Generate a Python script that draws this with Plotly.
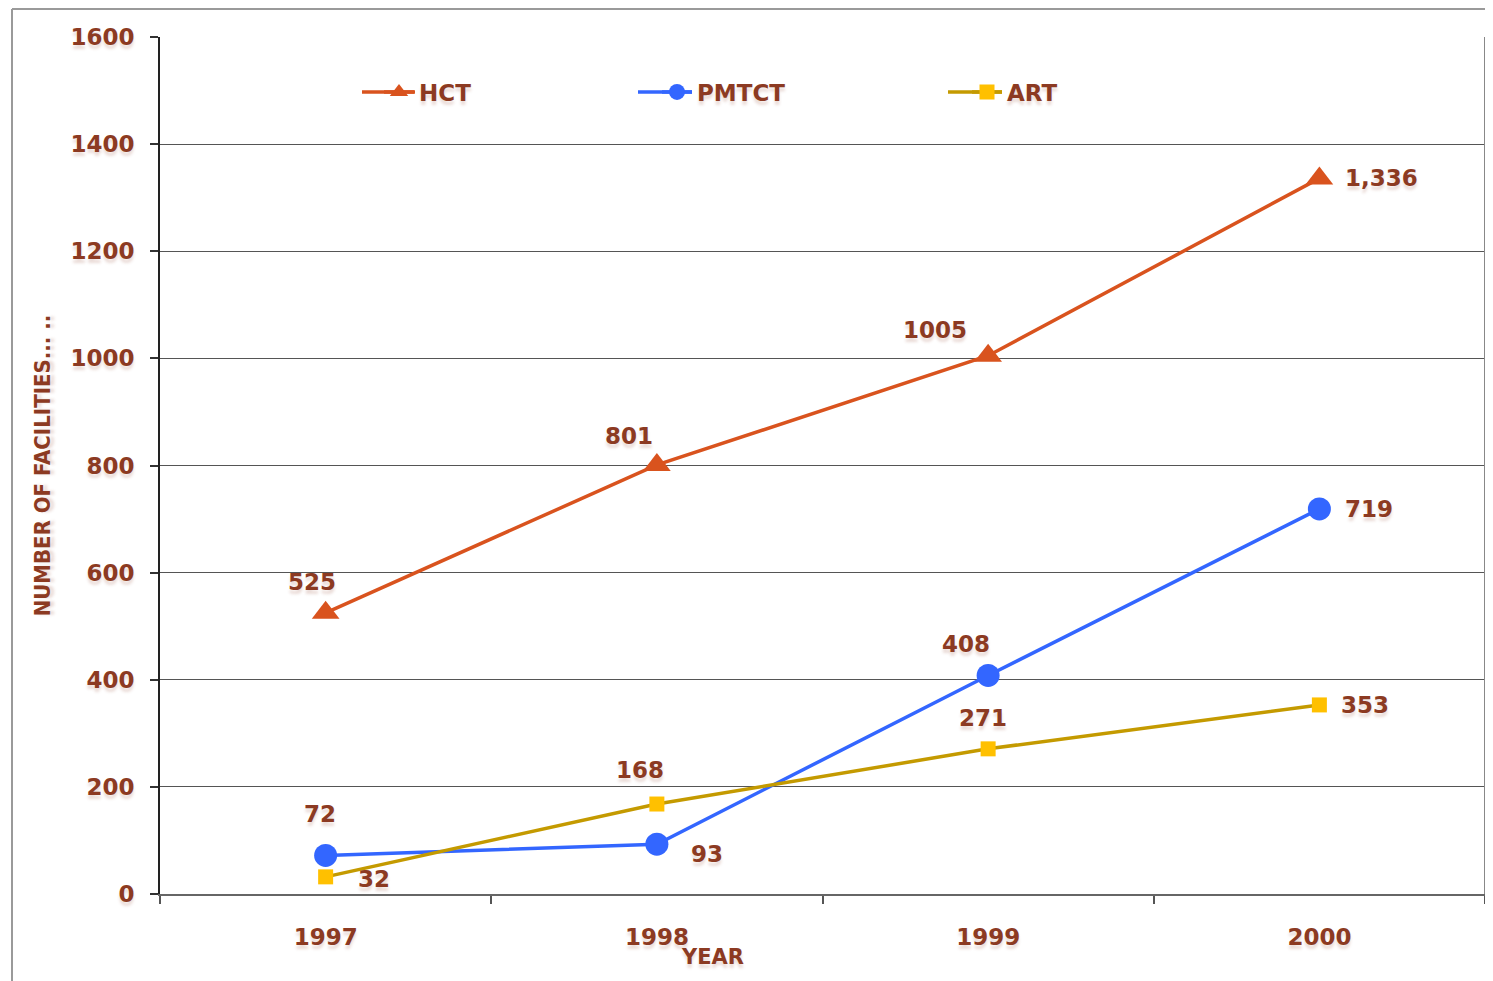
import plotly.graph_objects as go

years = ["1997", "1998", "1999", "2000"]
hct = [525, 801, 1005, 1336]
pmtct = [72, 93, 408, 719]
art = [32, 168, 271, 353]
hct_labels = ["525", "801", "1005", "1,336"]
pmtct_labels = ["72", "93", "408", "719"]
art_labels = ["32", "168", "271", "353"]
y_ticks = [0, 200, 400, 600, 800, 1000, 1200, 1400, 1600]

TXT = "#8C3A22"
FONT = "DejaVu Sans"
SHADOW = "0px 4px 3px rgba(140,58,34,0.18)"
C_HCT, C_PM, C_ART_L, C_ART_M = "#D9531E", "#3366FF", "#C49A00", "#FFC000"

# page body has an 8px margin: design in reference pixel coords, shift by OFF
OFF = 8
W, H = 1493 - OFF, 981 - OFF
ml, mr, mt, mb = 160 - OFF, 8, 37 - OFF, 981 - 894
pw = W - ml - mr
ph = H - mt - mb


def px(xr):
    return (xr - OFF - ml) / pw


def py(yr):
    return (H - mb - (yr - OFF)) / ph


fig = go.Figure()
fig.add_trace(go.Scatter(x=years, y=hct, name="HCT", mode="lines+markers",
                         line=dict(color=C_HCT, width=3.5),
                         marker=dict(symbol="triangle-up", size=24, color=C_HCT),
                         legend="legend"))
fig.add_trace(go.Scatter(x=years, y=pmtct, name="PMTCT", mode="lines+markers",
                         line=dict(color=C_PM, width=3.5),
                         marker=dict(symbol="circle", size=23, color=C_PM),
                         legend="legend2"))
fig.add_trace(go.Scatter(x=years, y=art, name="ART", mode="lines+markers",
                         line=dict(color=C_ART_L, width=3.5),
                         marker=dict(symbol="square", size=15, color=C_ART_M),
                         legend="legend3"))

lab_font = dict(family=FONT, size=23, color=TXT, weight="bold", shadow=SHADOW)
# label offsets (pixels) per series/point
hct_off = [(-14, 31), (-28, 29), (-53, 26), (62, 0)]
pmtct_off = [(-6, 41), (50, -10), (-22, 31), (50, 0)]
art_off = [(48, -2), (-17, 34), (-5, 31), (46, 0)]
for vals, labels, offs in [(hct, hct_labels, hct_off), (pmtct, pmtct_labels, pmtct_off),
                           (art, art_labels, art_off)]:
    for i, (yv, t, (dx, dy)) in enumerate(zip(vals, labels, offs)):
        fig.add_annotation(x=i, y=yv, xref="x", yref="y", text=t, showarrow=False,
                           xshift=dx, yshift=dy, font=lab_font)

leg_font = dict(family=FONT, size=23, color=TXT, weight="bold", shadow=SHADOW)
for key, x0 in [("legend", 379), ("legend2", 657), ("legend3", 967)]:
    fig.update_layout({key: dict(x=px(x0), y=py(92), xanchor="left", yanchor="middle",
                                 orientation="h", font=leg_font, bgcolor="rgba(0,0,0,0)",
                                 itemwidth=30)})

# lengthen the legend sample lines (legend styling)
for (x0, x1), col in [((362, 415), C_HCT), ((638, 692), C_PM), ((948, 1002), C_ART_L)]:
    fig.add_shape(type="line", xref="paper", yref="paper", x0=px(x0), x1=px(x1),
                  y0=py(92), y1=py(92), line=dict(color=col, width=3.5), layer="above")

# Axis title "YEAR"
fig.add_annotation(x=px(712), xref="paper", y=py(957), yref="paper", yanchor="middle",
                   text="YEAR", showarrow=False,
                   font=dict(family=FONT, size=21, color=TXT, weight="bold", shadow=SHADOW))

# Outer frame
fig.add_shape(type="line", xref="paper", yref="paper", x0=px(12), x1=px(12), y0=py(9), y1=py(990),
              line=dict(color="#9A9A9A", width=2))
fig.add_shape(type="line", xref="paper", yref="paper", x0=px(12), x1=px(1500), y0=py(9), y1=py(9),
              line=dict(color="#9A9A9A", width=2))

fig.update_layout(
    width=W, height=H,
    margin=dict(l=ml, r=mr, t=mt, b=mb),
    paper_bgcolor="white", plot_bgcolor="white",
    showlegend=True,
    xaxis=dict(type="category", range=[-0.5, 3.5], tickson="boundaries",
               ticks="outside", ticklen=8, tickcolor="#555555", tickwidth=1.5,
               showline=True, linecolor="#666666", linewidth=2,
               showgrid=False, mirror=False,
               tickfont=dict(family=FONT, size=23, color=TXT, weight="bold", shadow=SHADOW),
               ticklabelstandoff=21),
    yaxis=dict(range=[0, 1600], tickvals=y_ticks, ticks="outside", ticklen=8,
               tickcolor="#333333", tickwidth=1.5,
               showline=True, linecolor="#222222", linewidth=2,
               showgrid=True, gridcolor="#555555", gridwidth=1.2,
               zeroline=False,
               tickfont=dict(family=FONT, size=23, color=TXT, weight="bold", shadow=SHADOW),
               ticklabelstandoff=11,
               title=dict(text="NUMBER OF FACILITIES... ..", standoff=14,
                          font=dict(family="Liberation Sans Narrow, DejaVu Sans Condensed, DejaVu Sans",
                                    size=22, color=TXT, weight="bold", shadow=SHADOW))),
)
# right border line
fig.add_shape(type="line", xref="paper", yref="paper", x0=1, x1=1, y0=0, y1=1,
              line=dict(color="#888888", width=2))

fig.write_html("out.html")
